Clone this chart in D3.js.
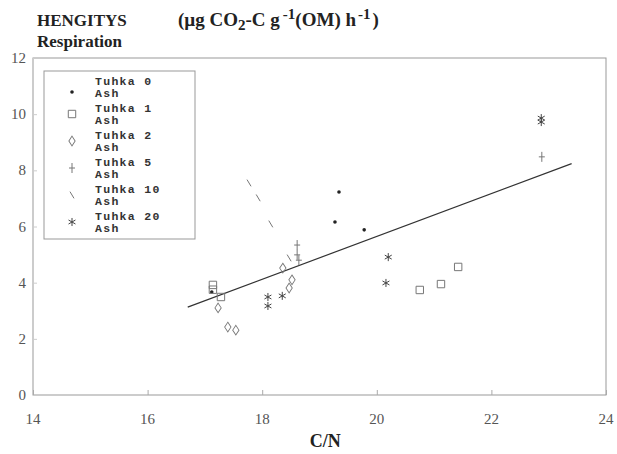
<!DOCTYPE html>
<html>
<head>
<meta charset="utf-8">
<script src="https://cdn.jsdelivr.net/npm/d3@7"></script>
<style>
  body { margin: 0; background: #fff; }
  svg { display: block; }
</style>
</head>
<body>
<svg id="chart" width="617" height="454"></svg>
<script>
// series (x = C/N, y = respiration)
const tuhka0 = [[17.12, 3.67], [19.27, 6.16], [19.34, 7.23], [19.78, 5.88]];
const tuhka1 = [[17.14, 3.92], [17.14, 3.75], [17.28, 3.49], [20.75, 3.74], [21.12, 3.95], [21.42, 4.56]];
const tuhka2 = [[17.23, 3.10], [17.40, 2.42], [17.54, 2.31], [18.36, 4.52], [18.47, 3.81], [18.52, 4.10]];
const tuhka5 = [[18.61, 5.34], [18.61, 4.99], [18.64, 4.80], [22.88, 8.48]];
const tuhka10 = [[17.77, 7.55], [17.93, 7.02], [18.15, 6.09], [18.47, 4.88]];
const tuhka20 = [[18.10, 3.49], [18.10, 3.17], [18.35, 3.53], [20.16, 3.99], [20.20, 4.91], [22.87, 9.72], [22.87, 9.86]];
const fitX = [16.7, 23.4];
const fitY = [3.13, 8.24];
const xTicks = [14, 16, 18, 20, 22, 24];
const yTicks = [0, 2, 4, 6, 8, 10, 12];
const legendLabels = ['Tuhka 0', 'Tuhka 1', 'Tuhka 2', 'Tuhka 5', 'Tuhka 10', 'Tuhka 20'];

const svg = d3.select('#chart');
const mLeft = 33, mRight = 606, mTop = 58, mBottom = 395;

const x = d3.scaleLinear().domain([14, 24]).range([mLeft, mRight]);
const y = d3.scaleLinear().domain([0, 12]).range([mBottom, mTop]);

// backslash marker used for Tuhka 10
const slash = {
  draw(ctx, size) {
    const r = Math.sqrt(size) / 2;
    ctx.moveTo(-r * 0.6, -r);
    ctx.lineTo(r * 0.6, r);
  }
};
// tall, narrow plus for Tuhka 5
const tallPlus = {
  draw(ctx, size) {
    const r = Math.sqrt(size) / 2;
    ctx.moveTo(0, -r);
    ctx.lineTo(0, r);
    ctx.moveTo(-r * 0.6, 0);
    ctx.lineTo(r * 0.6, 0);
  }
};

const series = [
  { data: tuhka0, type: 'dot' },
  { data: tuhka1, type: d3.symbolSquare2, size: 70 },
  { data: tuhka2, type: d3.symbolDiamond2, size: 45 },
  { data: tuhka5, type: tallPlus, size: 100 },
  { data: tuhka10, type: slash, size: 45 },
  { data: tuhka20, type: d3.symbolAsterisk, size: 45 }
];

// titles
const title = svg.append('g')
  .style('font-family', '"Liberation Serif", "Times New Roman", serif')
  .style('font-weight', 'bold')
  .attr('fill', '#222');
title.append('text').attr('x', 37).attr('y', 26).style('font-size', '17px').text('HENGITYS');
title.append('text').attr('x', 37).attr('y', 47).style('font-size', '17px').text('Respiration');
const unit = title.append('text').attr('x', 178).attr('y', 26).style('font-size', '19px');
unit.append('tspan').text('(µg CO');
unit.append('tspan').attr('dy', 4).style('font-size', '15px').text('2');
unit.append('tspan').attr('dy', -4).text('-C g');
unit.append('tspan').attr('dy', -7).attr('dx', 3).style('font-size', '15px').text('-1');
unit.append('tspan').attr('dy', 7).text('(OM) h');
unit.append('tspan').attr('dy', -7).attr('dx', 2).style('font-size', '15px').text('-1');
unit.append('tspan').attr('dy', 7).attr('dx', 2).text(')');

// frame
svg.append('rect')
  .attr('x', mLeft).attr('y', mTop)
  .attr('width', mRight - mLeft).attr('height', mBottom - mTop)
  .attr('fill', 'none').attr('stroke', '#999').attr('stroke-width', 1);

// inward ticks
const xAxis = d3.axisBottom(x).tickValues(xTicks).tickSize(-5).tickFormat('');
svg.append('g').attr('transform', `translate(0,${mBottom})`).call(xAxis)
  .call(g => g.select('.domain').remove())
  .selectAll('line').attr('stroke', '#aaa');
const yAxis = d3.axisLeft(y).tickValues(yTicks).tickSize(-4).tickFormat('');
svg.append('g').attr('transform', `translate(${mLeft},0)`).call(yAxis)
  .call(g => g.select('.domain').remove())
  .selectAll('line').attr('stroke', '#ccc');

// tick labels
const lab = svg.append('g')
  .style('font-family', '"Liberation Serif", serif')
  .style('font-size', '15px')
  .attr('fill', '#555');
lab.selectAll('.xl').data(xTicks).join('text')
  .attr('x', d => x(d)).attr('y', 424)
  .attr('text-anchor', 'middle').text(d => d);
lab.selectAll('.yl').data(yTicks).join('text')
  .attr('x', 26).attr('y', d => y(d) + 5)
  .attr('text-anchor', 'end').text(d => d);

svg.append('text')
  .attr('x', x(19.1)).attr('y', 447)
  .attr('text-anchor', 'middle')
  .style('font-family', '"Liberation Serif", serif')
  .style('font-weight', 'bold').style('font-size', '18px')
  .attr('fill', '#222')
  .text('C/N');

// regression line
svg.append('line')
  .attr('x1', x(fitX[0])).attr('y1', y(fitY[0]))
  .attr('x2', x(fitX[1])).attr('y2', y(fitY[1]))
  .attr('stroke', '#333').attr('stroke-width', 1.2);

function drawMarker(g, s) {
  if (s.type === 'dot') {
    g.append('circle').attr('r', 1.8).attr('fill', '#222');
  } else {
    g.append('path')
      .attr('d', d3.symbol().type(s.type).size(s.size))
      .attr('fill', 'none')
      .attr('stroke', s.type === d3.symbolAsterisk ? '#444' : '#777')
      .attr('stroke-width', 1)
      .attr('transform', s.type === d3.symbolDiamond2 ? 'scale(0.75,1.15)' : null);
  }
}

series.forEach(s => {
  s.data.forEach(d => {
    const g = svg.append('g').attr('transform', `translate(${x(d[0])},${y(d[1])})`);
    drawMarker(g, s);
  });
});

// legend
const legend = svg.append('g');
legend.append('rect')
  .attr('x', 44).attr('y', 71).attr('width', 151).attr('height', 168)
  .attr('fill', 'none').attr('stroke', '#999');
const rowY = d3.scaleLinear().domain([0, 5]).range([81, 216]);
legendLabels.forEach((t, i) => {
  const g = legend.append('g').attr('transform', `translate(0,${rowY(i)})`);
  const m = g.append('g').attr('transform', `translate(72,${i === 0 ? 11 : 6})`);
  drawMarker(m, series[i]);
  const tx = g.append('text')
    .style('font-family', '"Liberation Mono", "Courier New", monospace')
    .style('font-weight', 'bold').style('font-size', '11.5px')
    .style('letter-spacing', '1.3px')
    .attr('fill', '#333');
  tx.append('tspan').attr('x', 95).attr('y', 4).text(t);
  tx.append('tspan').attr('x', 95).attr('y', 16).text('Ash');
});
</script>
</body>
</html>
